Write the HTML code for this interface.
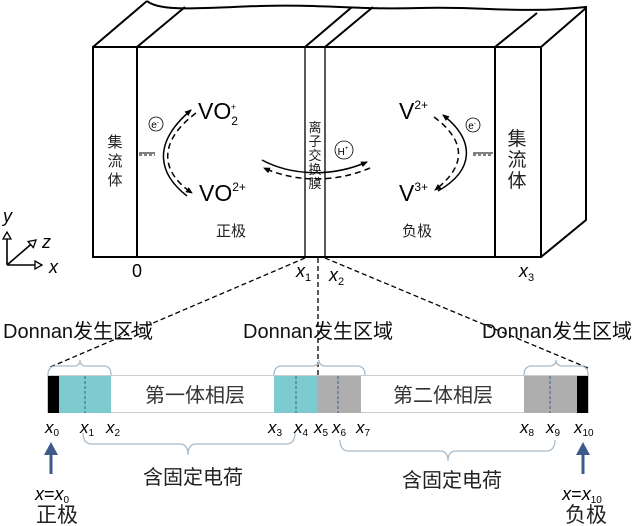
<!DOCTYPE html>
<html><head><meta charset="utf-8"><style>
html,body{margin:0;padding:0;background:#fff;}
svg{display:block;font-family:"Liberation Sans","Noto Sans CJK SC",sans-serif;}
.cj{font-family:"Liberation Sans","Noto Sans CJK SC",sans-serif;}
</style></head><body>
<svg width="639" height="526" viewBox="0 0 639 526" xmlns="http://www.w3.org/2000/svg">
<defs>
<marker id="ah" markerWidth="8" markerHeight="8" refX="6" refY="4" orient="auto" markerUnits="userSpaceOnUse"><path d="M0,1 L7,4 L0,7 Z" fill="#000"/></marker>
<marker id="ao" markerWidth="10" markerHeight="10" refX="8" refY="5" orient="auto" markerUnits="userSpaceOnUse"><path d="M1,1 L8,5 L1,9 Z" fill="#fff" stroke="#000" stroke-width="1.3"/></marker>
</defs>
<g fill="none" stroke="#000" stroke-width="2">
<rect x="93" y="47" width="448" height="210"/>
<line x1="137" y1="47" x2="137" y2="257"/>
<line x1="495" y1="47" x2="495" y2="257"/>
<line x1="305" y1="47" x2="305" y2="257" stroke-width="1.3"/>
<line x1="325" y1="47" x2="325" y2="257" stroke-width="1.3"/>
<line x1="93" y1="47" x2="147" y2="1"/>
<line x1="137" y1="47" x2="185" y2="7"/>
<line x1="305" y1="47" x2="352" y2="7"/>
<line x1="325" y1="47" x2="373" y2="7"/>
<line x1="495" y1="47" x2="537" y2="13"/>
<line x1="541" y1="47" x2="586" y2="8"/>
<path d="M147,1 C160,12 200,8 260,6 C320,4 360,10 420,8 C480,6 520,14 586,7 L586,220 L541,257"/>
</g>
<g class="cj" font-size="15" fill="#222" text-anchor="middle">
<text x="115" y="147">集</text><text x="115" y="166">流</text><text x="115" y="185">体</text>
<text x="315" y="132" font-size="13">离</text><text x="315" y="146" font-size="13">子</text><text x="315" y="160" font-size="13">交</text><text x="315" y="174" font-size="13">换</text><text x="315" y="188" font-size="13">膜</text>
<text x="517" y="145" font-size="19">集</text><text x="517" y="166" font-size="19">流</text><text x="517" y="187" font-size="19">体</text>
<text x="231" y="236">正极</text><text x="417" y="236">负极</text>
</g>
<g font-size="23" fill="#000">
<text x="198" y="119">VO<tspan font-size="12" dy="6">2</tspan><tspan font-size="9" dx="-7" dy="-15">+</tspan></text>
<text x="199" y="201">VO<tspan font-size="12" dy="-10">2+</tspan></text>
<text x="399" y="119">V<tspan font-size="12" dy="-10">2+</tspan></text>
<text x="399" y="201">V<tspan font-size="12" dy="-10">3+</tspan></text>
</g>
<g fill="none" stroke="#000" stroke-width="0.8">
<circle cx="156" cy="124" r="7"/><circle cx="473" cy="125" r="7"/><circle cx="344" cy="150" r="9"/>
</g>
<g font-size="10" text-anchor="middle"><text x="155" y="128">e<tspan font-size="6" dy="-4">-</tspan></text><text x="472" y="129">e<tspan font-size="6" dy="-4">-</tspan></text><text x="343" y="155">H<tspan font-size="6" dy="-5">+</tspan></text></g>
<g fill="none" stroke="#000" stroke-width="1.5">
<path d="M187,196 C160,175 150,145 191,110" marker-end="url(#ah)"/>
<path d="M196,113 C160,140 158,170 192,193" stroke-dasharray="6,4" marker-end="url(#ah)"/>
<path d="M262,160 C290,175 330,178 367,162" marker-end="url(#ah)"/>
<path d="M370,168 C330,185 290,180 264,168" stroke-dasharray="6,4" marker-end="url(#ah)"/>
<path d="M438,191 C475,170 475,140 443,115" marker-end="url(#ah)"/>
<path d="M434,117 C465,140 468,165 435,190" stroke-dasharray="6,4" marker-end="url(#ah)"/>
<line x1="139" y1="153" x2="155" y2="153" stroke-width="1"/>
<line x1="139" y1="155" x2="155" y2="155" stroke-width="1" stroke-dasharray="3,2"/>
<line x1="473" y1="153" x2="493" y2="153" stroke-width="1"/>
<line x1="473" y1="155" x2="493" y2="155" stroke-width="1" stroke-dasharray="3,2"/>
</g>
<g fill="none" stroke="#000" stroke-width="1.6">
<line x1="7" y1="265" x2="7" y2="232" marker-end="url(#ao)"/>
<line x1="7" y1="265" x2="42" y2="265" marker-end="url(#ao)"/>
<line x1="7" y1="265" x2="36" y2="240" marker-end="url(#ao)"/>
</g>
<g font-size="18" font-style="italic"><text x="3" y="222">y</text><text x="42" y="248">z</text><text x="49" y="273">x</text></g>
<g font-size="18"><text x="132" y="277">0</text>
<text x="296" y="277" font-style="italic">x<tspan font-size="11" font-style="normal" dy="4">1</tspan></text>
<text x="329" y="281" font-style="italic">x<tspan font-size="11" font-style="normal" dy="4">2</tspan></text>
<text x="519" y="277" font-style="italic">x<tspan font-size="11" font-style="normal" dy="4">3</tspan></text></g>
<g stroke="#000" stroke-width="1.3" stroke-dasharray="5,3" fill="none">
<line x1="305" y1="258" x2="48" y2="368"/>
<line x1="318" y1="258" x2="318" y2="376"/>
<line x1="325" y1="258" x2="588" y2="368"/>
</g>
<g font-size="20" fill="#111">
<text x="3" y="338">Donnan<tspan class="cj">发生区域</tspan></text>
<text x="243" y="338">Donnan<tspan class="cj">发生区域</tspan></text>
<text x="482" y="338">Donnan<tspan class="cj">发生区域</tspan></text>
</g>
<g fill="none" stroke="#a9bccb" stroke-width="1.3">
<path d="M48,375 Q48,366 56,366 L74,366 Q80,366 80,360 Q80,366 86,366 L104,366 Q111,366 111,375"/>
<path d="M274,375 Q274,366 282,366 L312,366 Q319,366 319,360 Q319,366 326,366 L357,366 Q365,366 365,375"/>
<path d="M524,375 Q524,366 532,366 L549,366 Q556,366 556,360 Q556,366 563,366 L580,366 Q588,366 588,375"/>
<path d="M83,433 Q83,444 92,444 L180,444 Q188,444 188,455 Q188,444 196,444 L286,444 Q295,444 295,433"/>
<path d="M340,440 Q340,451 349,451 L440,451 Q448,451 448,461 Q448,451 456,451 L546,451 Q555,451 555,440"/>
</g>
<rect x="47.5" y="375.5" width="541" height="37" fill="#fff" stroke="#ccc"/>
<rect x="48" y="376" width="11" height="37" fill="#000"/>
<rect x="59" y="376" width="52" height="37" fill="#7ecbcf"/>
<rect x="274" y="376" width="43" height="37" fill="#7ecbcf"/>
<rect x="317" y="376" width="44" height="37" fill="#aeaeae"/>
<rect x="524" y="376" width="53" height="37" fill="#aeaeae"/>
<rect x="577" y="376" width="11" height="37" fill="#000"/>
<g stroke="#3a5d9a" stroke-width="1" stroke-dasharray="3,2">
<line x1="85" y1="376" x2="85" y2="413"/><line x1="296" y1="376" x2="296" y2="413"/>
<line x1="338" y1="376" x2="338" y2="413"/><line x1="550" y1="376" x2="550" y2="413"/>
</g>
<g class="cj" font-size="20" fill="#333" text-anchor="middle"><text x="195" y="402">第一体相层</text><text x="443" y="402">第二体相层</text></g>
<g font-size="17" font-style="italic">
<text x="45" y="433">x<tspan font-size="10" font-style="normal" dy="3">0</tspan></text>
<text x="80" y="433">x<tspan font-size="10" font-style="normal" dy="3">1</tspan></text>
<text x="106" y="433">x<tspan font-size="10" font-style="normal" dy="3">2</tspan></text>
<text x="268" y="433">x<tspan font-size="10" font-style="normal" dy="3">3</tspan></text>
<text x="294" y="433">x<tspan font-size="10" font-style="normal" dy="3">4</tspan></text>
<text x="314" y="433">x<tspan font-size="10" font-style="normal" dy="3">5</tspan></text>
<text x="332" y="433">x<tspan font-size="10" font-style="normal" dy="3">6</tspan></text>
<text x="356" y="433">x<tspan font-size="10" font-style="normal" dy="3">7</tspan></text>
<text x="520" y="433">x<tspan font-size="10" font-style="normal" dy="3">8</tspan></text>
<text x="546" y="433">x<tspan font-size="10" font-style="normal" dy="3">9</tspan></text>
<text x="574" y="433">x<tspan font-size="10" font-style="normal" dy="3">10</tspan></text>
</g>
<g class="cj" font-size="20" fill="#222" text-anchor="middle"><text x="193" y="484">含固定电荷</text><text x="452" y="487">含固定电荷</text></g>
<g stroke="#3d5a8a" stroke-width="3" fill="#3d5a8a">
<line x1="51" y1="474" x2="51" y2="452"/><path d="M44,455 L51,442 L58,455 Z" stroke="none"/>
<line x1="583" y1="474" x2="583" y2="452"/><path d="M576,455 L583,442 L590,455 Z" stroke="none"/>
</g>
<g font-size="18" text-anchor="middle"><text x="52" y="500"><tspan font-style="italic">x</tspan>=<tspan font-style="italic">x</tspan><tspan font-size="10" dy="3">0</tspan></text>
<text x="582" y="500"><tspan font-style="italic">x</tspan>=<tspan font-style="italic">x</tspan><tspan font-size="10" dy="3">10</tspan></text></g>
<g class="cj" font-size="21" fill="#222" text-anchor="middle"><text x="57" y="522">正极</text><text x="586" y="522">负极</text></g>
</svg>
</body></html>
